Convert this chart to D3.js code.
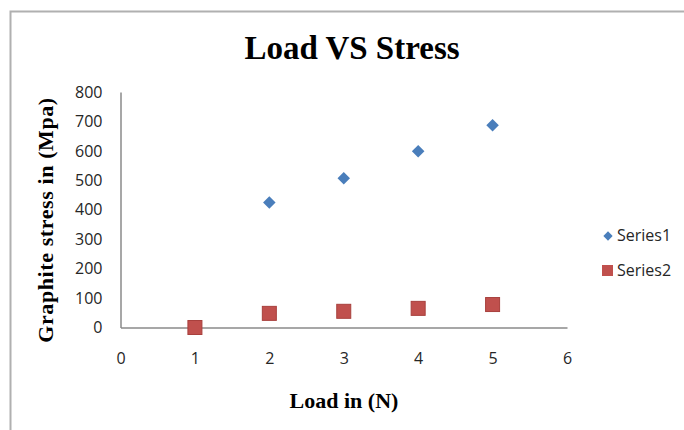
<!DOCTYPE html>
<html><head><meta charset="utf-8">
<script src="https://cdn.jsdelivr.net/npm/d3@7"></script>
<style>body{margin:0;background:#fff}svg{display:block}</style>
</head><body>
<script>
const loads1 = [2, 3, 4, 5];
const series1 = [425, 507, 599, 687];
const loads2 = [1, 2, 3, 4, 5];
const series2 = [0, 48, 55, 65, 78];
const xTicks = [0, 1, 2, 3, 4, 5, 6];
const yTicks = [0, 100, 200, 300, 400, 500, 600, 700, 800];
const seriesNames = ["Series1", "Series2"];

const W = 684, H = 430;
const svg = d3.select("body").append("svg").attr("width", W).attr("height", H);

// chart frame
svg.append("path").attr("d", "M10.5,430 L10.5,11.5 L684,11.5")
  .attr("fill", "none").attr("stroke", "#b0b0b0").attr("stroke-width", 2);

const x = d3.scaleLinear().domain([0, 6]).range([120.5, 567]);
const y = d3.scaleLinear().domain([0, 800]).range([327.5, 92]);

const tickFont = "Open Sans, sans-serif";

// axes
const xAxis = d3.axisBottom(x).tickValues(xTicks).tickFormat(d3.format("d")).tickSize(0).tickPadding(25);
const gx = svg.append("g").attr("transform", `translate(0,${y(0)})`).call(xAxis);
gx.attr("font-size", 16).attr("font-family", tickFont);
gx.select(".domain").attr("stroke", "#8a8a8a").attr("stroke-width", 1.5);
gx.selectAll("text").attr("fill", "#262626");

const yAxis = d3.axisLeft(y).tickValues(yTicks).tickFormat(d3.format("d")).tickSize(0).tickPadding(18);
const gy = svg.append("g").attr("transform", `translate(${x(0)},0)`).call(yAxis);
gy.attr("font-size", 16).attr("font-family", tickFont);
gy.select(".domain").attr("stroke", "#8a8a8a").attr("stroke-width", 1.5);
gy.selectAll("text").attr("fill", "#262626");

// Series1 diamonds
const diamond = d3.symbol().type(d3.symbolDiamond2).size(100);
svg.append("g").selectAll("path").data(loads1.map((l, i) => [l, series1[i]])).join("path")
  .attr("d", diamond)
  .attr("transform", d => `translate(${x(d[0])},${y(d[1])})`)
  .attr("fill", "#4a7ebb");

// Series2 squares
const sq = 14;
svg.append("g").selectAll("rect").data(loads2.map((l, i) => [l, series2[i]])).join("rect")
  .attr("x", d => x(d[0]) - sq / 2).attr("y", d => y(d[1]) - sq / 2)
  .attr("width", sq).attr("height", sq)
  .attr("fill", "#c0504d").attr("stroke", "#a8403d").attr("stroke-width", 1);

// title
svg.append("text").attr("x", 352).attr("y", 59).attr("text-anchor", "middle")
  .attr("font-family", "Liberation Serif, serif").attr("font-weight", "bold").attr("font-size", 33)
  .attr("fill", "#000").text("Load VS Stress");

// axis titles
svg.append("text").attr("x", 344).attr("y", 408).attr("text-anchor", "middle")
  .attr("font-family", "Liberation Serif, serif").attr("font-weight", "bold").attr("font-size", 22)
  .text("Load in (N)");
svg.append("text").attr("transform", "translate(53,220) rotate(-90)").attr("text-anchor", "middle")
  .attr("font-family", "Liberation Serif, serif").attr("font-weight", "bold").attr("font-size", 22)
  .attr("letter-spacing", 0.6)
  .text("Graphite stress in (Mpa)");

// legend
const leg = svg.append("g");
leg.append("path").attr("d", d3.symbol().type(d3.symbolDiamond2).size(55))
  .attr("transform", "translate(608,236)").attr("fill", "#4a7ebb");
leg.append("rect").attr("x", 602).attr("y", 265).attr("width", 11).attr("height", 11).attr("fill", "#c0504d");
leg.selectAll("text").data(seriesNames).join("text")
  .attr("x", 617).attr("y", (d, i) => 241 + i * 35)
  .attr("font-family", tickFont).attr("font-size", 16).attr("fill", "#262626")
  .text(d => d);
</script>
</body></html>
